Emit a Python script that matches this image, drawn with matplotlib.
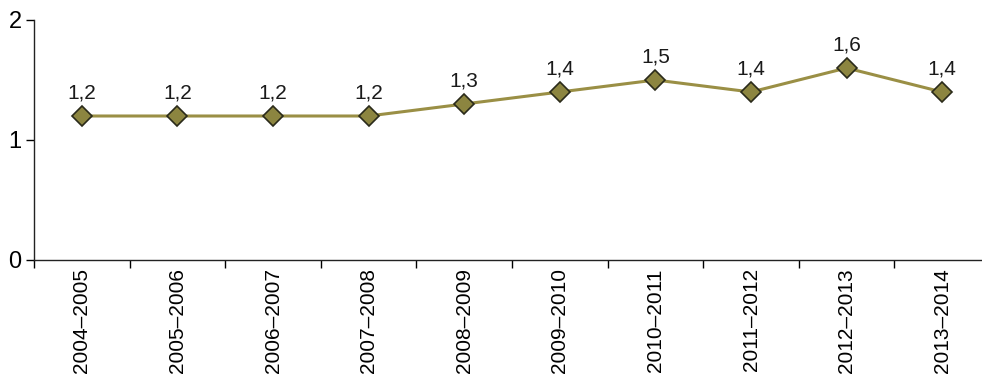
import numpy as np
import matplotlib
matplotlib.use("Agg")
import matplotlib.pyplot as plt

plt.rcParams['font.family'] = ['Liberation Sans', 'DejaVu Sans']

seasons = ["2004–2005", "2005–2006", "2006–2007", "2007–2008", "2008–2009",
           "2009–2010", "2010–2011", "2011–2012", "2012–2013", "2013–2014"]
values = [1.2, 1.2, 1.2, 1.2, 1.3, 1.4, 1.5, 1.4, 1.6, 1.4]
labels = ["1,2", "1,2", "1,2", "1,2", "1,3", "1,4", "1,5", "1,4", "1,6", "1,4"]

fig = plt.figure(figsize=(9.82, 3.79), dpi=100)
ax = fig.add_axes([34/982, 1 - 260/379, 956/982, 240/379])

x = np.arange(len(seasons))
ax.plot(x, values, color="#9a8f45", lw=2.2, zorder=2)
ax.plot(x, values, ls="none", marker="D", ms=10, mfc="#8c8540",
        mec="#2a2a1a", mew=1.2, zorder=3)
for xi, v, t in zip(x, values, labels):
    ax.annotate(t, (xi, v), xytext=(0, 10), textcoords="offset points",
                ha="center", va="bottom", fontsize=15, color="#1a1a1a")

ax.set_xlim(-0.5, len(seasons) - 0.5)
ax.set_ylim(0, 2)
ax.set_yticks([0, 1, 2])
ax.set_yticklabels(["0", "1", "2"], fontsize=17)
ax.set_xticks(x)
ax.set_xticklabels(seasons, rotation=90, fontsize=15)
ax.set_xticks(np.arange(-0.5, len(seasons)), minor=True)
ax.tick_params(axis="x", which="major", length=0, pad=6)
ax.tick_params(axis="x", which="minor", length=6, width=1, direction="out")
ax.tick_params(axis="y", length=6, width=1, direction="out", pad=3)

for s in ["top", "right"]:
    ax.spines[s].set_visible(False)
for s in ["left", "bottom"]:
    ax.spines[s].set_color("#222222")
    ax.spines[s].set_linewidth(1)

fig.savefig("out.png", dpi=100)
